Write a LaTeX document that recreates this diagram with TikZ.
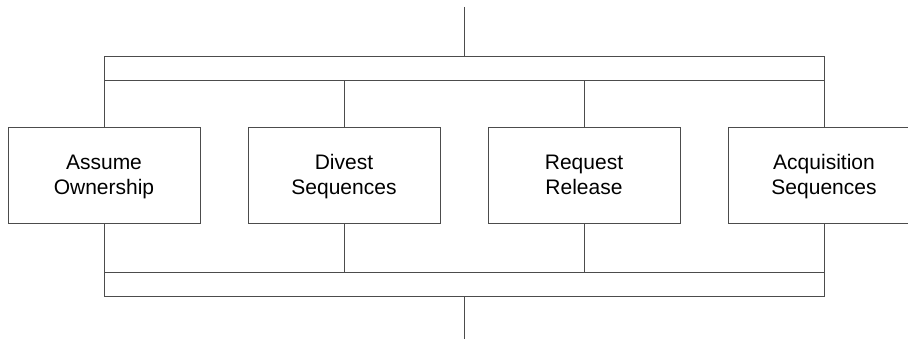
\documentclass[tikz,border=0pt]{standalone}
\usepackage{fontspec}
\setmainfont{Liberation Sans}
\begin{document}
\begin{tikzpicture}[x=1pt,y=-1pt,
  line/.style={draw=black!70, line width=0.9pt},
  taskbox/.style={line, rectangle, minimum width=192pt, minimum height=96pt, inner sep=0pt},
  tasktext/.style={align=center, inner sep=0pt, font=\fontsize{21}{25}\selectfont},
  barbox/.style={line, rectangle, minimum width=720pt, minimum height=24pt, inner sep=0pt}]
\useasboundingbox (0,0) rectangle (908,339);
\clip (0,0) rectangle (908,339);
\node[barbox] (topbar) at (464,68) {};
\node[barbox] (botbar) at (464,284) {};
\node[taskbox] (b1) at (104,175) {};
\node[taskbox] (b2) at (344,175) {};
\node[taskbox] (b3) at (584,175) {};
\node[taskbox] (b4) at (824,175) {};
\node[tasktext] (t1) at ([yshift=-2.5pt]b1.center) {Assume\strut\\Ownership\strut};
\node[tasktext] (t2) at ([yshift=-2.5pt]b2.center) {Divest\strut\\Sequences\strut};
\node[tasktext] (t3) at ([yshift=-2.5pt]b3.center) {Request\strut\\Release\strut};
\node[tasktext] (t4) at ([yshift=-2.5pt]b4.center) {Acquisition\strut\\Sequences\strut};
\coordinate (top) at (464,7);
\coordinate (bot) at (464,339);
\draw[line] (top) -- (top |- topbar.north);
\draw[line] (bot) -- (bot |- botbar.south);
\foreach \b in {b1,b2,b3,b4}{
  \draw[line] (\b.north) -- (\b.north |- topbar.south);
  \draw[line] (\b.south) -- (\b.south |- botbar.north);
}
\end{tikzpicture}
\end{document}
